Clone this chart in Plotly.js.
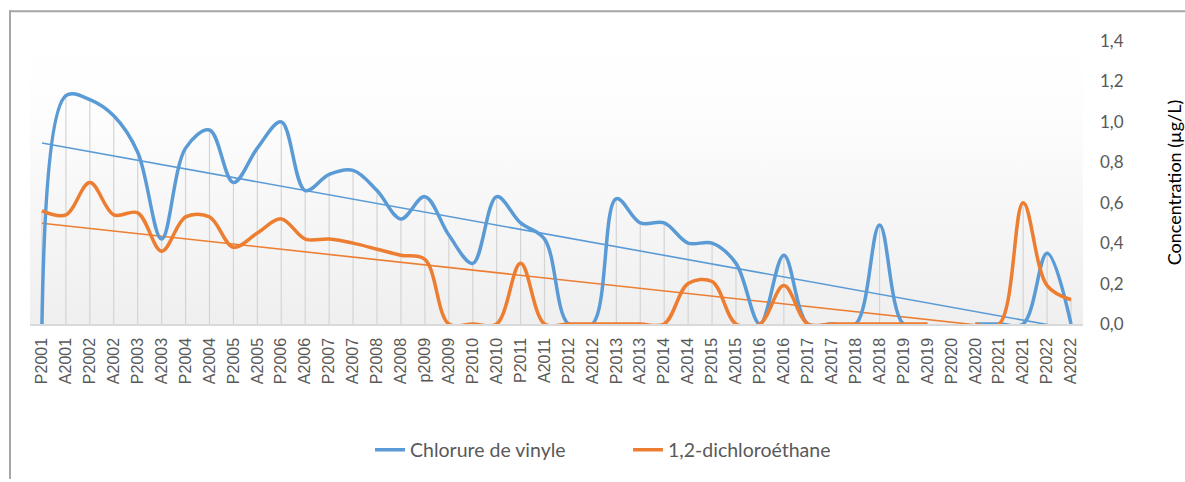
<!DOCTYPE html>
<html>
<head>
<meta charset="utf-8">
<script src="https://cdn.plot.ly/plotly-3.0.1.min.js"></script>
<style>html,body{margin:0;padding:0;background:#fff;}#chart{width:1185px;height:482px;}</style>
</head>
<body>
<div id="chart"></div>
<script>
const categories = ["P2001","A2001","P2002","A2002","P2003","A2003","P2004","A2004","P2005","A2005",
  "P2006","A2006","P2007","A2007","P2008","A2008","p2009","A2009","P2010","A2010",
  "P2011","A2011","P2012","A2012","P2013","A2013","P2014","A2014","P2015","A2015",
  "P2016","A2016","P2017","A2017","P2018","A2018","P2019","A2019","P2020","A2020",
  "P2021","A2021","P2022","A2022"];

const chlorureDeVinyle = [0, 1.13, 1.11, 1.03, 0.85, 0.42, 0.87, 0.96, 0.70, 0.87,
  1.00, 0.66, 0.74, 0.76, 0.66, 0.52, 0.63, 0.44, 0.30, 0.63,
  0.50, 0.42, 0, 0, 0.62, 0.50, 0.50, 0.40, 0.40, 0.30,
  0, 0.34, 0, 0, 0, 0.49, 0, 0, null, 0,
  0, 0, 0.35, 0];

const dichloroethane = [0.56, 0.54, 0.70, 0.54, 0.55, 0.36, 0.53, 0.53, 0.38, 0.45,
  0.52, 0.42, 0.42, 0.40, 0.37, 0.34, 0.32, 0, 0, 0,
  0.30, 0, 0, 0, 0, 0, 0, 0.20, 0.21, 0,
  0, 0.19, 0, 0, 0, 0, 0, 0, null, 0,
  0, 0.60, 0.19, 0.12];

const seriesNames = ["Chlorure de vinyle", "1,2-dichloroéthane"];
const yTitle = "Concentration (µg/L)";

const BLUE = "#5B9BD5", ORANGE = "#ED7D31";

function linearTrend(vals) {
  let n = 0, sx = 0, sy = 0, sxx = 0, sxy = 0;
  vals.forEach((v, i) => {
    if (v === null) return;
    n++; sx += i; sy += v; sxx += i * i; sxy += i * v;
  });
  const slope = (n * sxy - sx * sy) / (n * sxx - sx * sx);
  const intercept = (sy - slope * sx) / n;
  return vals.map((_, i) => intercept + slope * i);
}

const dropTop = categories.map((_, i) => {
  const a = chlorureDeVinyle[i], b = dichloroethane[i];
  if (a === null && b === null) return null;
  return Math.max(a === null ? 0 : a, b === null ? 0 : b);
});

const traces = [
  {
    x: categories, y: dropTop, type: "scatter", mode: "markers",
    marker: {size: 1, color: "rgba(0,0,0,0)"},
    error_y: {type: "data", symmetric: false, array: dropTop.map(() => 0),
      arrayminus: dropTop, width: 0, thickness: 1.2, color: "#d4d4d4"},
    showlegend: false, hoverinfo: "skip"
  },
  {
    x: categories, y: linearTrend(chlorureDeVinyle), type: "scatter", mode: "lines",
    line: {color: BLUE, width: 1.6}, showlegend: false, hoverinfo: "skip"
  },
  {
    x: categories, y: linearTrend(dichloroethane), type: "scatter", mode: "lines",
    line: {color: ORANGE, width: 1.6}, showlegend: false, hoverinfo: "skip"
  },
  {
    x: categories, y: chlorureDeVinyle, type: "scatter", mode: "lines",
    name: seriesNames[0], line: {color: BLUE, width: 3.5, shape: "spline", smoothing: 1}
  },
  {
    x: categories, y: dichloroethane, type: "scatter", mode: "lines",
    name: seriesNames[1], line: {color: ORANGE, width: 3.5, shape: "spline", smoothing: 1}
  }
];

const M = {l: 30, r: 102, t: 41, b: 156};
const PW = 1185 - M.l - M.r, PH = 482 - M.t - M.b;
const px = v => (v - M.l) / PW;
const py = v => (482 - M.b - v) / PH;

const gradSvg = '<svg xmlns="http://www.w3.org/2000/svg" width="10" height="100" preserveAspectRatio="none">' +
  '<defs><linearGradient id="g" x1="0" y1="0" x2="0" y2="1">' +
  '<stop offset="0" stop-color="#ffffff"/><stop offset="0.25" stop-color="#fdfdfd"/><stop offset="1" stop-color="#efefef"/>' +
  '</linearGradient></defs><rect width="10" height="100" fill="url(#g)"/></svg>';

const layout = {
  width: 1185, height: 482,
  margin: M,
  paper_bgcolor: "#ffffff",
  plot_bgcolor: "rgba(0,0,0,0)",
  separators: ", ",
  font: {family: "Liberation Sans, Arial, sans-serif", color: "#595959"},
  showlegend: true,
  legend: {
    orientation: "h", x: px(370), xanchor: "left", y: py(453), yanchor: "middle",
    font: {family: "Lato, sans-serif", size: 19.5, color: "#595959"},
    entrywidth: 213, entrywidthmode: "pixels", bgcolor: "rgba(0,0,0,0)"
  },
  xaxis: {
    type: "category", categoryorder: "array", categoryarray: categories,
    range: [-0.5, categories.length - 0.5],
    tickangle: -90, tickfont: {family: "Liberation Sans, Arial, sans-serif", size: 16, color: "#595959"},
    showgrid: false, zeroline: false, showline: true, linecolor: "#d9d9d9", linewidth: 1.5,
    ticks: "", ticklabelstandoff: 6, fixedrange: true
  },
  yaxis: {
    side: "right", range: [0, 1.4], dtick: 0.2, tick0: 0, tickformat: ".1f",
    tickfont: {family: "Lato, sans-serif", size: 17, color: "#595959"},
    showgrid: false, zeroline: false, showline: false, ticks: "",
    ticklabelstandoff: 16,
    title: {text: yTitle, font: {family: "Lato, sans-serif", size: 18, color: "#000000"}, standoff: 46},
    fixedrange: true
  },
  images: [{
    source: "data:image/svg+xml;charset=utf-8," + encodeURIComponent(gradSvg),
    xref: "paper", yref: "paper", x: 0, y: 1, sizex: 1, sizey: 1,
    sizing: "stretch", layer: "below", xanchor: "left", yanchor: "top"
  }],
  shapes: [
    {type: "line", xref: "paper", yref: "paper", x0: px(9), x1: px(1185), y0: py(11), y1: py(11),
      line: {color: "#a6a6a6", width: 2}},
    {type: "line", xref: "paper", yref: "paper", x0: px(10), x1: px(10), y0: py(10), y1: py(482),
      line: {color: "#a6a6a6", width: 2}}
  ]
};

Plotly.newPlot("chart", traces, layout, {displayModeBar: false, staticPlot: true});
</script>
</body>
</html>
